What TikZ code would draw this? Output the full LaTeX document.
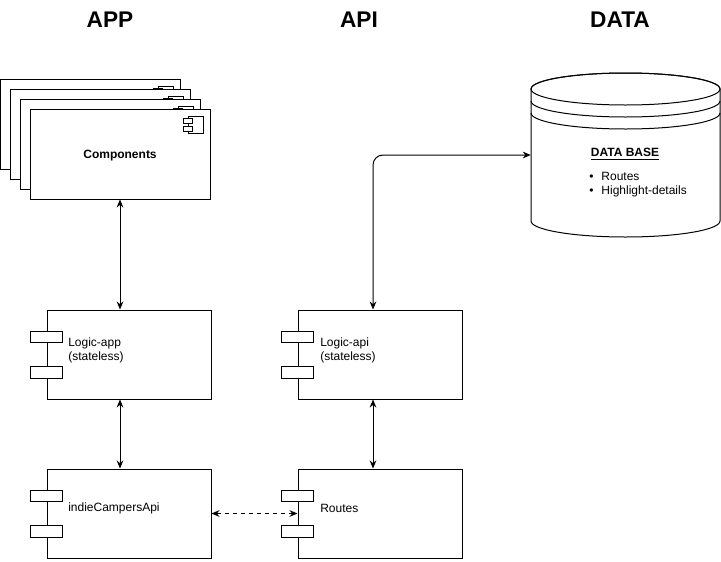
\documentclass[tikz,border=0pt]{standalone}
\usepackage{fontspec}
\setmainfont{Liberation Sans}
\usetikzlibrary{arrows.meta,calc}
\tikzset{
  px/.style={x=0.75pt,y=-0.75pt},
  comprect/.style={draw,fill=white,line width=0.75pt,minimum width=135pt,minimum height=67.5pt,inner sep=0pt},
  modbox/.style={draw,fill=white,line width=0.75pt,minimum width=123pt,minimum height=66.75pt,inner sep=0pt},
  tab/.style={draw,fill=white,line width=0.75pt,minimum width=24pt,minimum height=8.5pt,inner sep=0pt},
  lbl/.style={font=\fontsize{9pt}{10.5pt}\selectfont,align=left,anchor=west,inner sep=0pt},
  title/.style={font=\fontsize{17pt}{20pt}\selectfont\bfseries,inner sep=0pt},
  conn/.style={line width=0.75pt,{Stealth[length=6pt,width=5pt]}-{Stealth[length=6pt,width=5pt]}},
}
\newcommand{\compicon}[1]{%
  \draw[line width=0.6pt,fill=white] ($(#1.north east)+(-5.25pt,-6pt)$) rectangle ++(-11.25pt,-12.75pt);
  \draw[line width=0.6pt,fill=white] ($(#1.north east)+(-20.25pt,-7.5pt)$) rectangle ++(6.75pt,-3.5pt);
  \draw[line width=0.6pt,fill=white] ($(#1.north east)+(-20.25pt,-13.5pt)$) rectangle ++(6.75pt,-3.5pt);
}
\begin{document}
\begin{tikzpicture}[px]
\useasboundingbox (0,0) rectangle (721,561);
\fill[white] (0,0) rectangle (721,561);

% titles
\node[title] (tapp) at (110,20) {APP};
\node[title] (tapi) at (359,20) {API};
\node[title] (tdata) at (620,20) {DATA};

% component stack
\node[comprect] (c1) at (90,124) {};
\compicon{c1}
\node[comprect] (c2) at (100,134) {};
\compicon{c2}
\node[comprect] (c3) at (110,144) {};
\compicon{c3}
\node[comprect] (comp) at (120,154) {};
\compicon{comp}
\node[font=\fontsize{9pt}{10.5pt}\selectfont\bfseries] (comptext) at (120,155.5) {Components};

% module boxes
\node[modbox] (lapp) at (129,354.5) {};
\node[modbox] (lapi) at (380,354.5) {};
\node[modbox] (indie) at (129,513.5) {};
\node[modbox] (routes) at (380,513.5) {};
\foreach \b in {lapp,lapi,indie,routes}{
  \node[tab] at ($(\b.north west)+(0,27.5)$) {};
  \node[tab] at ($(\b.north west)+(0,63)$) {};
}
\node[lbl] (lapptext) at (68,350) {Logic-app\\(stateless)};
\node[lbl] (lapitext) at (320,350) {Logic-api\\(stateless)};
\node[lbl] (indietext) at (68,508) {indieCampersApi};
\node[lbl] (routestext) at (320,508) {Routes};

% database
\node[minimum width=141.75pt,minimum height=123pt,inner sep=0pt] (db) at (625.5,155) {};
\draw[line width=0.75pt,fill=white] (531,89) -- (531,221)
  arc[start angle=180,end angle=360,x radius=70.875pt,y radius=12pt] -- (720,89)
  arc[start angle=0,end angle=180,x radius=70.875pt,y radius=12pt] -- cycle;
\draw[line width=0.75pt] (625.5,89) ellipse[x radius=70.875pt,y radius=12pt];
\draw[line width=0.75pt] (531,101) arc[start angle=180,end angle=360,x radius=70.875pt,y radius=12pt];
\draw[line width=0.75pt] (531,113) arc[start angle=180,end angle=360,x radius=70.875pt,y radius=12pt];
\node[font=\fontsize{9pt}{10.5pt}\selectfont\bfseries] (dbtitle) at (625,154) {\underline{DATA BASE}};
\node[lbl] (dbitems) at (589,184.5) {\textbullet\hspace{6pt}Routes\\\textbullet\hspace{6pt}Highlight-details};

% connectors
\draw[conn] (comp.south) -- (comp.south |- lapp.north);
\draw[conn] (lapp.south -| comp.south) -- (indie.north -| comp.south);
\draw[conn] ([xshift=-5.25pt]lapi.south) -- ([xshift=-5.25pt]routes.north);
\draw[conn,rounded corners=7.5pt] ([xshift=-5.25pt]lapi.north) |- (db.west);
\draw[conn,dashed] (indie.east) -- (routes.west);
\end{tikzpicture}
\end{document}
